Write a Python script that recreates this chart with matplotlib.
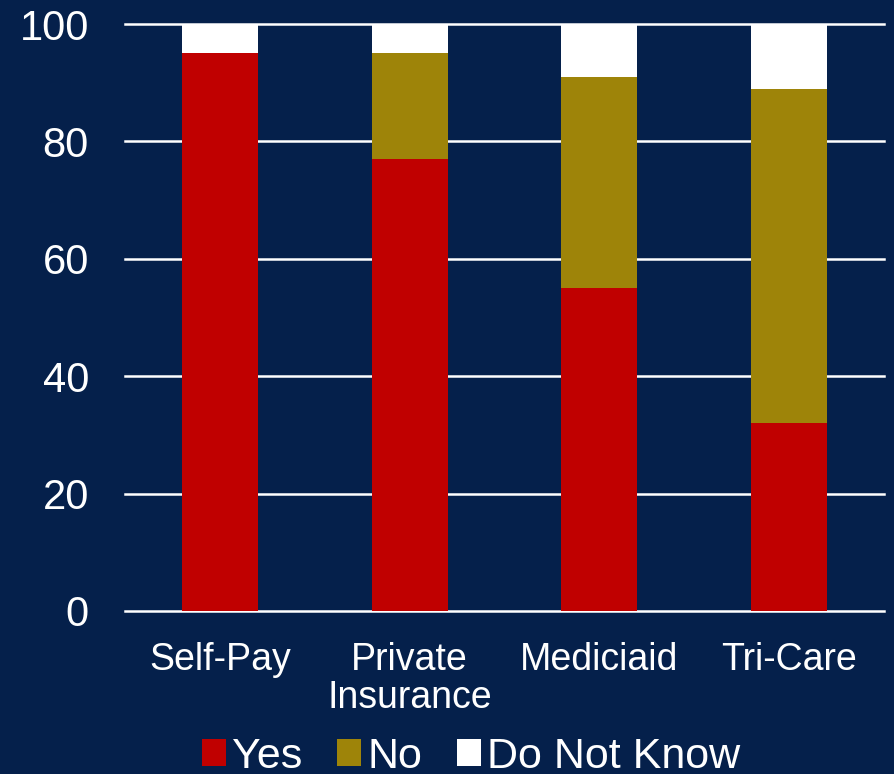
import matplotlib
matplotlib.use("Agg")
import matplotlib.pyplot as plt
from matplotlib.patches import Patch
import numpy as np

categories = ["Self-Pay", "Private\nInsurance", "Mediciaid", "Tri-Care"]
yes = [95, 77, 55, 32]
no = [0, 18, 36, 57]
dont_know = [5, 5, 9, 11]
series_names = ["Yes", "No", "Do Not Know"]
colors = ["#C00000", "#9E8409", "#FFFFFF"]

bg = "#05204B"
plt.rcParams["font.family"] = ["Liberation Sans", "DejaVu Sans"]

fig = plt.figure(figsize=(8.94, 7.74), dpi=100, facecolor=bg)
ax = fig.add_axes([125/894, 1-611/774, (884-125)/894, (611-24)/774])
ax.set_facecolor(bg)

x = np.arange(len(categories))
yes_a = np.array(yes); no_a = np.array(no); dk_a = np.array(dont_know)
w = 0.4
ax.bar(x, yes_a, w, color=colors[0], zorder=3)
ax.bar(x, no_a, w, bottom=yes_a, color=colors[1], zorder=3)
ax.bar(x, dk_a, w, bottom=yes_a+no_a, color=colors[2], zorder=3)

ax.set_xlim(-0.5, len(categories)-0.5)
ax.set_ylim(0, 100)
ax.set_yticks([0, 20, 40, 60, 80, 100])
ax.yaxis.grid(True, color="white", linewidth=1.8, zorder=1)
ax.set_axisbelow(True)
for s in ax.spines.values():
    s.set_visible(False)
ax.tick_params(axis="y", length=0, pad=26, labelsize=30, labelcolor="white")
ax.tick_params(axis="x", length=0, pad=22, labelsize=27, labelcolor="white")
ax.set_xticks(x)
ax.set_xticklabels(categories, linespacing=1.1)
for gl in ax.get_ygridlines():
    gl.set_clip_on(False)

handles = [Patch(facecolor=c, edgecolor="none") for c in colors]
leg = fig.legend(handles, series_names, loc="center", bbox_to_anchor=(471/894, 1-757/774),
                 ncol=3, frameon=False, fontsize=31, labelcolor="white",
                 handlelength=0.56, handleheight=0.58, handletextpad=0.15,
                 columnspacing=0.8, borderpad=0, borderaxespad=0)

fig.savefig("out.png", dpi=100, facecolor=bg)
